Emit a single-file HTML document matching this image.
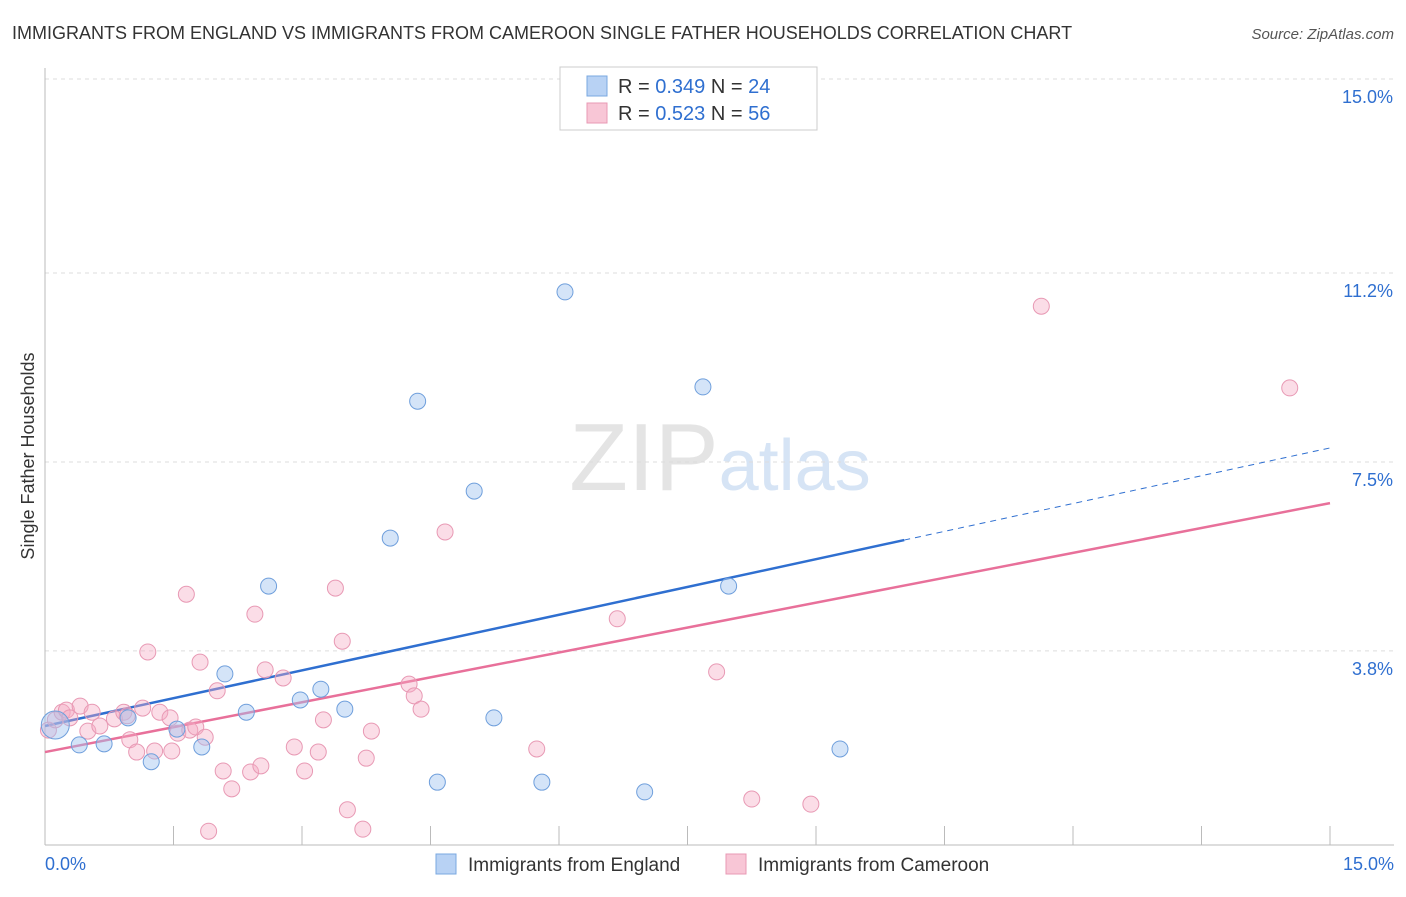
<!DOCTYPE html>
<html><head><meta charset="utf-8"><style>
body{margin:0;background:#fff;font-family:"Liberation Sans",sans-serif;}
svg text{font-family:"Liberation Sans",sans-serif;}
</style></head><body>
<svg id="chart" width="1406" height="892" xmlns="http://www.w3.org/2000/svg">
<text x="12" y="39" font-size="18" fill="#333">IMMIGRANTS FROM ENGLAND VS IMMIGRANTS FROM CAMEROON SINGLE FATHER HOUSEHOLDS CORRELATION CHART</text>
<text x="1394" y="39" font-size="15" fill="#555" text-anchor="end" font-style="italic">Source: ZipAtlas.com</text>
<text x="720" y="490" font-size="96" text-anchor="middle" fill="#e4e4e4" font-family="Liberation Serif">ZIP<tspan fill="#d6e4f5" font-family="Liberation Sans" font-size="72">atlas</tspan></text>
<text transform="translate(34,456) rotate(-90)" font-size="18" fill="#333" text-anchor="middle">Single Father Households</text>
<g id="grid"></g><g id="axes"></g><g id="lines"></g><g id="points"></g>
<g>
<rect x="560" y="67" width="257" height="63" fill="#fff" stroke="#ccc"/>
<rect x="587" y="76" width="20" height="20" fill="#b8d2f4" stroke="#7aa8e0"/>
<rect x="587" y="103" width="20" height="20" fill="#f8c6d6" stroke="#e899b4"/>
<text x="618" y="93" font-size="20" fill="#333">R = <tspan fill="#2f6fd0">0.349</tspan>   N = <tspan fill="#2f6fd0">24</tspan></text>
<text x="618" y="120" font-size="20" fill="#333">R = <tspan fill="#2f6fd0">0.523</tspan>   N = <tspan fill="#2f6fd0">56</tspan></text>
</g>
<g>
<rect x="436" y="854" width="20" height="20" fill="#b8d2f4" stroke="#7aa8e0"/>
<text x="468" y="871" font-size="19" fill="#333">Immigrants from England</text>
<rect x="726" y="854" width="20" height="20" fill="#f8c6d6" stroke="#e899b4"/>
<text x="758" y="871" font-size="19" fill="#333">Immigrants from Cameroon</text>
</g>
</svg>
<script>
const yTicks=[15.0,11.2,7.5,3.8];
const yTickLabels=["15.0%","11.2%","7.5%","3.8%"];
const xEndLabels=["0.0%","15.0%"];
const englandX=[0.12,0.40,0.69,0.97,1.24,1.54,1.83,2.10,2.35,2.61,2.98,3.22,3.50,4.03,4.35,4.58,5.01,5.24,5.80,6.07,7.00,7.68,7.98,9.28];
const englandY=[2.35,1.96,1.98,2.49,1.63,2.27,1.92,3.35,2.60,5.07,2.84,3.05,2.66,6.01,8.69,1.23,6.93,2.49,1.23,10.83,1.04,8.97,5.07,1.88];
const cameroonX=[0.04,0.12,0.20,0.25,0.29,0.41,0.50,0.55,0.64,0.81,0.92,0.96,0.99,1.07,1.14,1.20,1.28,1.34,1.46,1.48,1.55,1.65,1.69,1.76,1.81,1.87,1.91,2.01,2.08,2.18,2.40,2.45,2.52,2.57,2.78,2.91,3.03,3.19,3.25,3.39,3.47,3.53,3.71,3.75,3.81,4.25,4.31,4.39,4.67,5.74,6.68,7.84,8.25,8.94,11.63,14.53];
const cameroonY=[2.25,2.45,2.60,2.64,2.49,2.72,2.23,2.60,2.33,2.47,2.60,2.53,2.06,1.82,2.68,3.78,1.84,2.60,2.49,1.84,2.19,4.91,2.25,2.31,3.58,2.11,0.27,3.02,1.45,1.10,1.43,4.52,1.55,3.43,3.27,1.92,1.45,1.82,2.45,5.03,3.99,0.69,0.31,1.70,2.23,3.15,2.92,2.66,6.13,1.88,4.43,3.39,0.90,0.80,10.55,8.95];
const englandTrend=[2.33,0.363];
const cameroonTrend=[1.82,0.325];
const NS="http://www.w3.org/2000/svg";
const sx=v=>45+v*(1285/15);
const sy=v=>845-v*51.07;
function mk(t,a,parent){const e=document.createElementNS(NS,t);for(const k in a)e.setAttribute(k,a[k]);document.getElementById(parent).appendChild(e);return e;}
yTicks.forEach((t,i)=>{
 const l=mk('line',{x1:45,x2:1394,y1:sy(t),y2:sy(t),stroke:'#ddd','stroke-dasharray':'4,4'},'grid');
 
 
 const tx=mk('text',{x:1393,y:sy(t)+24,'font-size':18,fill:'#2f6fd0','text-anchor':'end'},'grid');
 tx.textContent=yTickLabels[i];
 
 
});
const ax=mk('line',{x1:45,x2:1394,y1:845,y2:845,stroke:'#bbb'},'axes');


const ay=mk('line',{x1:45,x2:45,y1:68,y2:845,stroke:'#bbb'},'axes');


for(let i=1;i<=10;i++){const t=mk('line',{x1:sx(i*1.5),x2:sx(i*1.5),y1:826,y2:845,stroke:'#bbb'},'axes');
 
 }
[[0,'start',45],[1,'end',1394]].forEach(([i,a,x])=>{const t=mk('text',{x:x,y:870,'font-size':18,fill:'#2f6fd0','text-anchor':a},'axes');t.textContent=xEndLabels[i];
 
 });
// trend lines
let bl=mk('line',{x1:sx(0),y1:sy(englandTrend[0]),x2:sx(10.03),y2:sy(englandTrend[0]+englandTrend[1]*10.03),stroke:'#2f6fd0','stroke-width':2.5},'lines');


let bd=mk('line',{x1:sx(10.03),y1:sy(englandTrend[0]+englandTrend[1]*10.03),x2:sx(15),y2:sy(englandTrend[0]+englandTrend[1]*15),stroke:'#2f6fd0','stroke-width':1,'stroke-dasharray':'6,5'},'lines');


let pl=mk('line',{x1:sx(0),y1:sy(cameroonTrend[0]),x2:sx(15),y2:sy(cameroonTrend[0]+cameroonTrend[1]*15),stroke:'#e8709a','stroke-width':2.5},'lines');


cameroonX.forEach((x,i)=>{const c=mk('circle',{cx:sx(x),cy:sy(cameroonY[i]),r:8,fill:'rgba(245,170,195,0.4)',stroke:'#e899b4','stroke-width':1},'points');
 
 });
englandX.forEach((x,i)=>{const c=mk('circle',{cx:sx(x),cy:sy(englandY[i]),r:i===0?14:8,fill:'rgba(160,196,240,0.45)',stroke:'#6f9fdc','stroke-width':1},'points');
 
 });
</script>
</body></html>
